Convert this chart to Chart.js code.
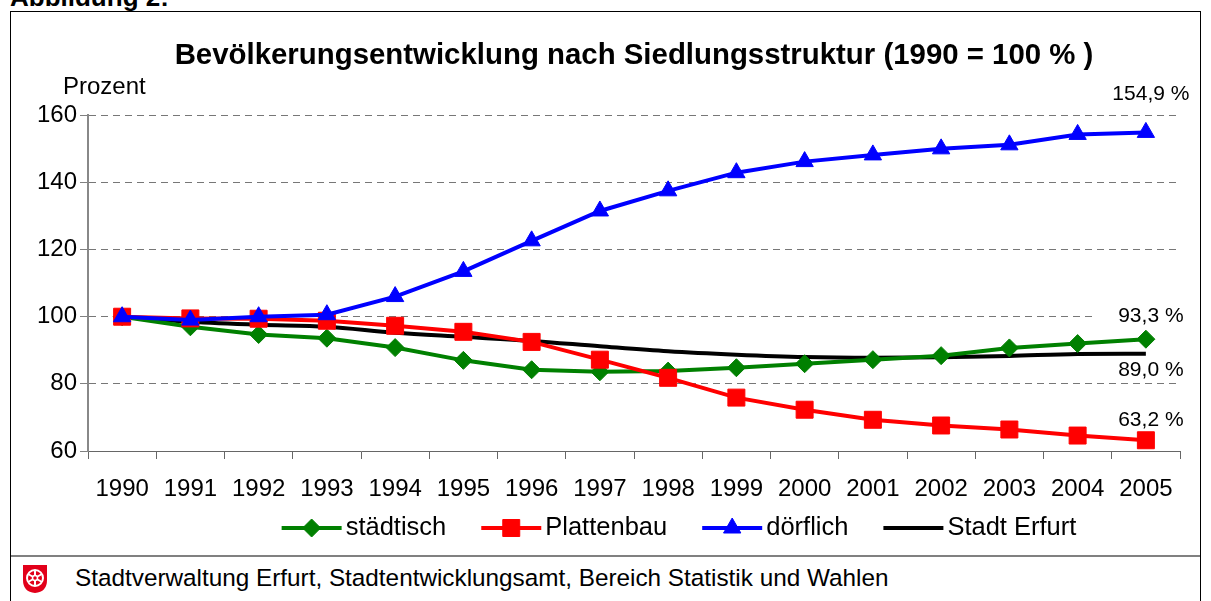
<!DOCTYPE html>
<html lang="de">
<head>
<meta charset="utf-8">
<title>Bevölkerungsentwicklung nach Siedlungsstruktur</title>
<script src="https://cdn.jsdelivr.net/npm/chart.js@4.4.1/dist/chart.umd.min.js"></script>
<style>
  html, body { margin: 0; padding: 0; background: #fff; overflow: hidden; }
  body { width: 1211px; height: 601px; position: relative; font-family: "Liberation Sans", Arial, sans-serif; }
  #caption { position: absolute; left: 10px; top: -16px; font-weight: bold; font-size: 26px; line-height: 26px; white-space: nowrap; }
  #frame { position: absolute; left: 10px; top: 11px; width: 1191px; height: 620px; border: 1px solid #000; box-sizing: border-box; }
  #chart { position: absolute; left: 0; top: 0; }
  #footer { position: absolute; left: 0; top: 543px; width: 100%; height: 70px; border-top: 2px solid #808080; }
  #footer svg { position: absolute; left: 11px; top: 7px; }
  #footer span { position: absolute; left: 64px; top: 9px; font-size: 24.3px; line-height: 1; white-space: nowrap; }
</style>
</head>
<body>
<div id="caption">Abbildung 2:</div>
<div id="frame">
  <canvas id="chart" width="1189" height="543"></canvas>
  <div id="footer">
    <svg width="26" height="30" viewBox="0 0 26 30">
      <path d="M1,1 H25 V16 Q25,28 13,29 Q1,28 1,16 Z" fill="#e2001a"/>
      <g stroke="#fff" stroke-width="2" fill="none">
        <circle cx="13" cy="14" r="8"/>
        <line x1="13" y1="6" x2="13" y2="22"/>
        <line x1="6.1" y1="10" x2="19.9" y2="18"/>
        <line x1="6.1" y1="18" x2="19.9" y2="10"/>
      </g>
      <circle cx="13" cy="14" r="2.5" fill="#e2001a" stroke="#fff" stroke-width="1.5"/>
    </svg>
    <span>Stadtverwaltung Erfurt, Stadtentwicklungsamt, Bereich Statistik und Wahlen</span>
  </div>
</div>
<script>
// Werte (1990 = 100 %)
const years = ['1990', '1991', '1992', '1993', '1994', '1995', '1996', '1997',
               '1998', '1999', '2000', '2001', '2002', '2003', '2004', '2005'];
const staedtisch  = [100, 97.0, 94.7, 93.6, 90.8, 87.0, 84.2, 83.6, 83.8, 84.8, 86.0, 87.2, 88.4, 90.7, 92.0, 93.3];
const plattenbau  = [100, 99.5, 99.4, 98.8, 97.3, 95.5, 92.5, 87.2, 81.8, 75.9, 72.3, 69.3, 67.6, 66.4, 64.6, 63.2];
const doerflich   = [100, 99.0, 100.0, 100.6, 106.0, 113.5, 122.6, 131.5, 137.5, 142.9, 146.2, 148.2, 150.0, 151.2, 154.3, 154.9];
const stadtErfurt = [100, 98.5, 97.6, 97.0, 95.2, 94.0, 92.8, 91.2, 89.7, 88.7, 88.0, 87.8, 87.9, 88.3, 88.9, 89.0];
const yMin = 60, yMax = 160, yStep = 20;

const FONT = '"Liberation Sans", Arial, sans-serif';
Chart.defaults.font.family = FONT;
Chart.defaults.color = '#000';

// "Prozent" ueber der y-Achse und Endwerte rechts an den Linien
const annotations = {
    id: 'annotations',
    afterDatasetsDraw(chart, args, opts) {
        const ctx = chart.ctx;
        const area = chart.chartArea;
        ctx.save();
        ctx.fillStyle = '#000';
        ctx.font = '24px ' + FONT;
        ctx.textAlign = 'left';
        ctx.textBaseline = 'middle';
        ctx.fillText(opts.axisTitle, area.left - 25, area.top - 28);

        ctx.font = '21px ' + FONT;
        ctx.textAlign = 'center';
        chart.data.datasets.forEach((ds, i) => {
            const meta = chart.getDatasetMeta(i);
            const last = meta.data[meta.data.length - 1];
            const value = ds.data[ds.data.length - 1];
            const text = value.toFixed(1).replace('.', ',') + ' %';
            const cx = last.x + 5;
            const cy = last.y + opts.offsets[i];
            const w = ctx.measureText(text).width;
            // weisser Hintergrund wie bei Excel-Datenbeschriftungen
            ctx.fillStyle = '#fff';
            ctx.fillRect(cx - w / 2 - 22, cy - 10, w + 44, 20);
            ctx.fillStyle = '#000';
            ctx.fillText(text, cx, cy);
        });
        ctx.restore();
    }
};

// Legende im Excel-Stil: Linie mit Marker in der Mitte
const lineLegend = {
    id: 'lineLegend',
    afterDraw(chart, args, o) {
        const ctx = chart.ctx;
        ctx.save();
        ctx.font = o.fontSize + 'px ' + FONT;
        const items = chart.data.datasets.map(ds => ({ ds, w: ctx.measureText(ds.label).width }));
        const total = items.reduce((s, it) => s + o.line + o.gap + it.w, 0) + o.spacing * (items.length - 1);
        let x = (chart.chartArea.left + chart.chartArea.right) / 2 + o.shift - total / 2;
        const y = chart.height - o.bottom;
        items.forEach(({ ds, w }) => {
            ctx.strokeStyle = ds.borderColor;
            ctx.lineWidth = ds.borderWidth;
            ctx.beginPath();
            ctx.moveTo(x, y);
            ctx.lineTo(x + o.line, y);
            ctx.stroke();
            if (ds.pointRadius > 0) {
                ctx.fillStyle = ds.backgroundColor;
                ctx.lineWidth = 1;
                Chart.helpers.drawPoint(ctx, {
                    pointStyle: ds.pointStyle, radius: ds.pointRadius, rotation: 0, borderWidth: 1
                }, x + o.line / 2, y);
            }
            ctx.fillStyle = '#000';
            ctx.textAlign = 'left';
            ctx.textBaseline = 'middle';
            ctx.fillText(ds.label, x + o.line + o.gap, y);
            x += o.line + o.gap + w + o.spacing;
        });
        ctx.restore();
    }
};

new Chart(document.getElementById('chart'), {
    type: 'line',
    data: {
        labels: years,
        datasets: [
            {
                label: 'städtisch', data: staedtisch,
                borderColor: '#008000', backgroundColor: '#008000', borderWidth: 4,
                pointStyle: 'rectRot', pointRadius: 9, pointBorderWidth: 1, order: 2
            },
            {
                label: 'Plattenbau', data: plattenbau,
                borderColor: '#ff0000', backgroundColor: '#ff0000', borderWidth: 4,
                pointStyle: 'rect', pointRadius: 12, pointBorderWidth: 1, order: 1
            },
            {
                label: 'dörflich', data: doerflich,
                borderColor: '#0000ff', backgroundColor: '#0000ff', borderWidth: 4,
                pointStyle: 'triangle', pointRadius: 10, pointBorderWidth: 1, order: 0
            },
            {
                label: 'Stadt Erfurt', data: stadtErfurt,
                borderColor: '#000000', backgroundColor: '#000000', borderWidth: 4,
                pointRadius: 0, cubicInterpolationMode: 'monotone', order: 3
            }
        ]
    },
    options: {
        responsive: false,
        animation: false,
        devicePixelRatio: 1,
        layout: { padding: { top: 0, left: 0, right: 20, bottom: 44 } },
        scales: {
            x: {
                offset: true,
                grid: { offset: true, drawOnChartArea: false, tickLength: 8, color: '#666', tickColor: '#666' },
                border: { color: '#666', width: 1 },
                ticks: { font: { size: 24 }, color: '#000', padding: 16, maxRotation: 0, autoSkip: false },
                afterFit(scale) { scale.height = 60; }
            },
            y: {
                min: yMin, max: yMax,
                grid: { color: '#777', lineWidth: 1, tickLength: 8, tickColor: '#808080' },
                border: { color: '#888', width: 2, dash: [7, 5] },
                ticks: { stepSize: yStep, font: { size: 24 }, color: '#000', padding: 3 },
                afterFit(scale) { scale.width = 77; }
            }
        },
        plugins: {
            legend: { display: false },
            tooltip: { enabled: false },
            title: {
                display: true,
                fullSize: false,
                text: 'Bevölkerungsentwicklung nach Siedlungsstruktur (1990 = 100 % )',
                color: '#000',
                font: { size: 29.4, weight: 'bold' },
                padding: { top: 26, bottom: 42 }
            },
            annotations: { axisTitle: 'Prozent', offsets: [-23, -20, -38, 17] },
            lineLegend: { fontSize: 25.5, line: 60, gap: 4, spacing: 35, shift: 45, bottom: 27 }
        }
    },
    plugins: [annotations, lineLegend]
});
</script>
</body>
</html>
